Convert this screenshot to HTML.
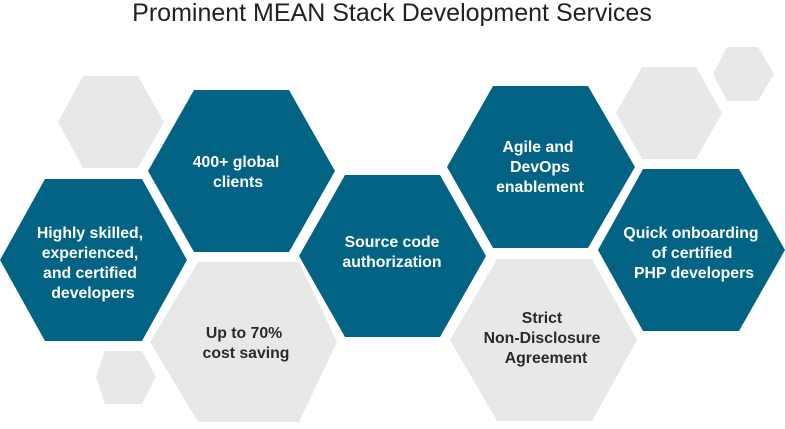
<!DOCTYPE html>
<html><head><meta charset="utf-8"><style>
html,body{margin:0;padding:0;background:#fff;}
svg text{font-family:"Liberation Sans",sans-serif;}
</style></head><body>
<svg width="785" height="424" viewBox="0 0 785 424" xmlns="http://www.w3.org/2000/svg">
<text x="392" y="21" text-anchor="middle" font-size="25" fill="#222">Prominent MEAN Stack Development Services</text>
<g fill="#e8e8e8">
<polygon points="83,76 138,76 164,122 138,168 83,168 58,122"/>
<polygon points="105,351 142,351 156,377 142,404 105,404 96,377"/>
<polygon points="642,67 696,67 722,113 696,159 642,159 616,113"/>
<polygon points="727,47 758,47 774,74 758,101 727,101 713,74"/>
<polygon points="198,262 299,262 337,342 299,422 198,422 150,342"/>
<polygon points="497,259 592,259 637,340 592,421 497,421 450,340"/>
</g>
<g fill="#036385">
<polygon points="45,179 142,179 187,260 142,341 45,341 0,260"/>
<polygon points="194,90 289,90 335,171 289,252 194,252 148,171"/>
<polygon points="345,175 440,175 486,256 440,337 345,337 299,256"/>
<polygon points="493,86 588,86 635,167 588,248 493,248 447,167"/>
<polygon points="643,169 739,169 785,250 739,331 643,331 598,250"/>
</g>
<g font-size="15.8" font-weight="bold" text-anchor="middle" fill="#fff">
<text x="90" y="238">Highly skilled,</text>
<text x="90" y="258">experienced,</text>
<text x="90" y="278">and certified</text>
<text x="93" y="298">developers</text>
<text x="236" y="167">400+ global</text>
<text x="238" y="187">clients</text>
<text x="392" y="247">Source code</text>
<text x="392" y="267">authorization</text>
<text x="538" y="152">Agile and</text>
<text x="540" y="172">DevOps</text>
<text x="540" y="192">enablement</text>
<text x="691" y="238">Quick onboarding</text>
<text x="692" y="258">of certified</text>
<text x="694" y="278">PHP developers</text>
</g>
<g font-size="15.8" font-weight="bold" text-anchor="middle" fill="#2a2a2a">
<text x="244" y="338">Up to 70%</text>
<text x="246" y="358">cost saving</text>
<text x="542" y="323">Strict</text>
<text x="542" y="343">Non-Disclosure</text>
<text x="546" y="363">Agreement</text>
</g>
</svg>
</body></html>
